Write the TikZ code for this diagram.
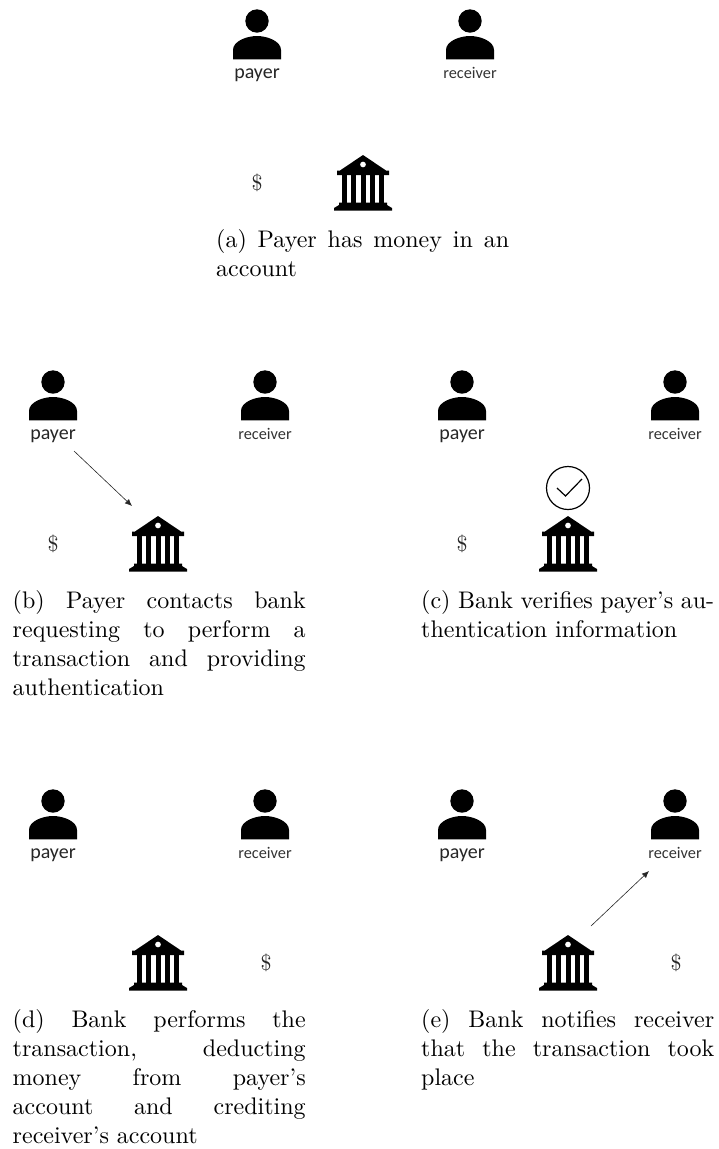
\documentclass[tikz,border=0pt]{standalone}
\usepackage{fontspec}
\newfontfamily\labelfont{Carlito}
\newfontfamily\capfont[Ligatures=TeX]{lmroman10-regular.otf}
\usetikzlibrary{arrows.meta}
\tikzset{
  x=1pt,y=-1pt,
  payerlabel/.style={anchor=base,font=\labelfont\fontsize{20}{22}\selectfont,text=black!85,inner sep=0pt},
  recvlabel/.style={anchor=base,font=\labelfont\fontsize{16.3}{18}\selectfont,text=black!80,inner sep=0pt},
  money/.style={font=\capfont\fontsize{22}{24}\selectfont,text=black!85,inner sep=0pt},
  capbox/.style={anchor=north west,inner sep=0pt,align=justify,text width=293pt,font=\capfont\fontsize{24}{29}\selectfont},
  link/.style={draw=black!85,line width=0.6pt,-{Latex[length=7pt,width=6pt]}},
  % icon: origin is the head centre
  pics/personicon/.style={code={
    \fill[black] (0,0) circle[radius=11.7];
    \fill[black] (-24,38.3) -- (-24,29) .. controls (-24,20) and (-10,15) .. (0,15)
       .. controls (10,15) and (24,20) .. (24,29) -- (24,38.3) -- cycle;
  }},
  % icon: origin is the apex of the pediment
  pics/bankicon/.style={code={
    \fill[black,even odd rule] (0,0) -- (23,15.5) -- (26,15.5) -- (26,20) -- (-26,20) -- (-26,15.5) -- (-23,15.5) -- cycle
       (3,9.5) arc[start angle=0,end angle=360,radius=3];
    \foreach \cx in {-18.4,-9.2,0,9.2,18.4} \fill[black] (\cx-2.5,20) rectangle (\cx+2.5,48);
    \fill[black] (-24,47.5) -- (24,47.5) -- (24,50) -- (29,53) -- (29,55.5) -- (-29,55.5) -- (-29,53) -- (-24,50) -- cycle;
  }},
}
\begin{document}
\begin{tikzpicture}
\useasboundingbox (0,0) rectangle (718,1149);
% panel a
\pic at (257,21) {personicon};
\node[payerlabel] (pa) at (257,78) {payer};
\pic at (470,21) {personicon};
\node[recvlabel] (ra) at (470,78) {receiver};
\pic at (363,155) {bankicon};
\node[money] (ma) at (257,183) {\$};
\node[capbox] (ca) at (216,229) {(a) Payer has money in an account};
% panel b
\pic at (53,382) {personicon};
\node[payerlabel] (pb) at (53,439) {payer};
\pic at (265,382) {personicon};
\node[recvlabel] (rb) at (265,439) {receiver};
\pic at (158,516) {bankicon};
\node[money] (mb) at (53,544) {\$};
\coordinate (bs) at (74,451);
\coordinate (be) at (132,506);
\draw[link] (bs) -- (be);
\node[capbox] (cb) at (12.5,590) {(b) Payer contacts bank\linebreak requesting to perform a\linebreak transaction and providing\linebreak authentication};
% panel c
\pic at (462,382) {personicon};
\node[payerlabel] (pc) at (462,439) {payer};
\pic at (675,382) {personicon};
\node[recvlabel] (rc) at (675,439) {receiver};
\pic at (568,516) {bankicon};
\node[money] (mc) at (462,544) {\$};
\node[circle,draw=black,line width=1.2pt,minimum size=43pt,inner sep=0pt] (vc) at (568,488) {};
\draw[black,line width=1.2pt] (557,488) -- (565.5,496) -- (582,479);
\node[capbox] (cc) at (421,590) {(c) Bank verifies payer’s authentication information};
% panel d
\pic at (53,801) {personicon};
\node[payerlabel] (pd) at (53,858) {payer};
\pic at (265,801) {personicon};
\node[recvlabel] (rd) at (265,858) {receiver};
\pic at (158,935) {bankicon};
\node[money] (md) at (266,963) {\$};
\node[capbox] (cd) at (12.5,1009) {(d) Bank performs the\linebreak transaction, deducting\linebreak money from payer’s\linebreak account and crediting\linebreak receiver’s account};
% panel e
\pic at (462,801) {personicon};
\node[payerlabel] (pe) at (462,858) {payer};
\pic at (675,801) {personicon};
\node[recvlabel] (re) at (675,858) {receiver};
\pic at (568,935) {bankicon};
\node[money] (me) at (676,963) {\$};
\coordinate (es) at (591,926);
\coordinate (ee) at (649,871);
\draw[link] (es) -- (ee);
\node[capbox] (ce) at (421,1009) {(e) Bank notifies receiver that the transaction took place};
\end{tikzpicture}
\end{document}
